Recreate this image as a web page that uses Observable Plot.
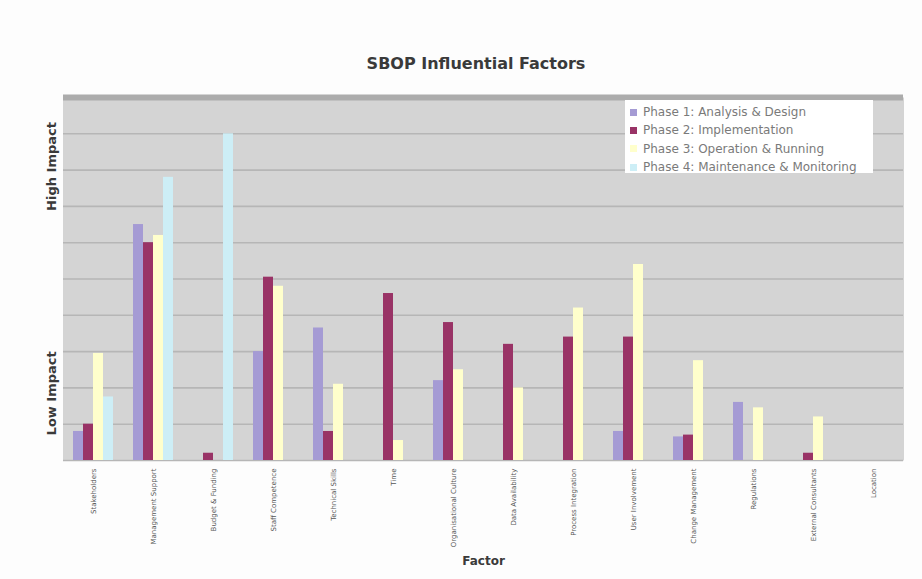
<!DOCTYPE html>
<html>
<head>
<meta charset="utf-8">
<script src="https://cdn.jsdelivr.net/npm/d3@7"></script>
<script src="https://cdn.jsdelivr.net/npm/@observablehq/plot@0.6"></script>
<style>
  html, body { margin: 0; padding: 0; background: #fdfdfd; overflow: hidden; }
  #wrap { position: relative; width: 922px; height: 579px; font-family: "DejaVu Sans", Verdana, sans-serif; }
  #chart { position: absolute; left: 0; top: 0; }
  #title { position: absolute; left: 476px; top: 54px; transform: translateX(-50%); white-space: nowrap;
           font-size: 16px; font-weight: bold; color: #3a3a3a; }
  #legend { position: absolute; left: 625px; top: 100px; width: 248px; height: 73px; background: #fff;
            box-sizing: border-box; padding-top: 3px; }
  .item { display: flex; align-items: center; height: 18.3px; font-size: 12px; color: #7a7a7a; white-space: nowrap; }
  .swatch { width: 7px; height: 7px; margin: 0 6px 0 5px; flex: none; }
</style>
</head>
<body>
<div id="wrap">
  <div id="chart"></div>
  <div id="title">SBOP Influential Factors</div>
  <div id="legend"></div>
</div>
<script>
// Factors along the horizontal axis
const factors = [
  "Stakeholders",
  "Management Support",
  "Budget & Funding",
  "Staff Competence",
  "Technical Skills",
  "Time",
  "Organisational Culture",
  "Data Availability",
  "Process Integration",
  "User Involvement",
  "Change Management",
  "Regulations",
  "External Consultants",
  "Location"
];

// Project phases (series)
const phases = [
  "Phase 1: Analysis & Design",
  "Phase 2: Implementation",
  "Phase 3: Operation & Running",
  "Phase 4: Maintenance & Monitoring"
];
const phaseColors = ["#a59bd4", "#993366", "#ffffcc", "#cdeef6"];

// Impact score of each factor per phase (0 = low, 10 = high)
const phase1 = [0.8, 6.5, 0, 3.0, 3.65, 0, 2.2, 0, 0, 0.8, 0.65, 1.6, 0, 0];
const phase2 = [1.0, 6.0, 0.2, 5.05, 0.8, 4.6, 3.8, 3.2, 3.4, 3.4, 0.7, 0, 0.2, 0];
const phase3 = [2.95, 6.2, 0, 4.8, 2.1, 0.55, 2.5, 2.0, 4.2, 5.4, 2.75, 1.45, 1.2, 0];
const phase4 = [1.75, 7.8, 9.0, 0, 0, 0, 0, 0, 0, 0, 0, 0, 0, 0];

// Scale ticks and the verbal labels of the impact axis
const gridTicks = [0, 1, 2, 3, 4, 5, 6, 7, 8, 9, 10];
const impactTicks = [1.85, 8.1];
const impactLabels = ["Low Impact", "High Impact"];

const series = [phase1, phase2, phase3, phase4];
const rows = [];
factors.forEach((factor, i) => {
  phases.forEach((phase, j) => {
    rows.push({factor, phase, value: series[j][i]});
  });
});

const chart = Plot.plot({
  width: 922,
  height: 579,
  marginTop: 97,
  marginBottom: 119,
  marginLeft: 63,
  marginRight: 19,
  style: {background: "transparent", fontFamily: "'DejaVu Sans', Verdana, sans-serif", overflow: "visible"},
  fx: {domain: factors, padding: 0},
  x: {domain: phases, paddingInner: 0, paddingOuter: 0.73, axis: null},
  y: {domain: [0, 10]},
  color: {domain: phases, range: phaseColors},
  marks: [
    // plot-area background; slightly overlapping so adjacent facets join without seams
    Plot.frame({fill: "#d4d4d4", stroke: "none", insetLeft: -0.5, insetRight: -0.5}),
    Plot.gridY(gridTicks, {stroke: "#b6b6b6", strokeOpacity: 1, strokeWidth: 1.6}),
    Plot.ruleY([10], {stroke: "#acacac", strokeWidth: 6}),
    Plot.barY(rows, {fx: "factor", x: "phase", y: "value", fill: "phase"}),
    Plot.axisFx({
      anchor: "bottom",
      tickRotate: -90,
      tickSize: 0,
      tickPadding: 8,
      fontSize: 7,
      fill: "#555",
      label: "Factor",
      labelAnchor: "center",
      labelOffset: 104
    }),
    Plot.axisY(impactTicks, {
      anchor: "left",
      tickFormat: (d) => impactLabels[impactTicks.indexOf(d)],
      tickRotate: -90,
      tickSize: 0,
      tickPadding: 8,
      fontSize: 13,
      fontWeight: "bold",
      fill: "#3a3a3a",
      label: null
    })
  ]
});
document.getElementById("chart").appendChild(chart);

// Style the axis title "Factor"
chart.querySelectorAll("[aria-label='fx-axis label'] text, [aria-label='fx-axis label']").forEach((el) => {
  el.setAttribute("font-weight", "bold");
  el.setAttribute("font-size", "12");
  el.setAttribute("fill", "#3a3a3a");
});

// Legend box drawn over the plot area
const legend = document.getElementById("legend");
phases.forEach((phase, j) => {
  const item = document.createElement("div");
  item.className = "item";
  const sw = document.createElement("span");
  sw.className = "swatch";
  sw.style.background = phaseColors[j];
  item.appendChild(sw);
  item.appendChild(document.createTextNode(phase));
  legend.appendChild(item);
});
</script>
</body>
</html>
